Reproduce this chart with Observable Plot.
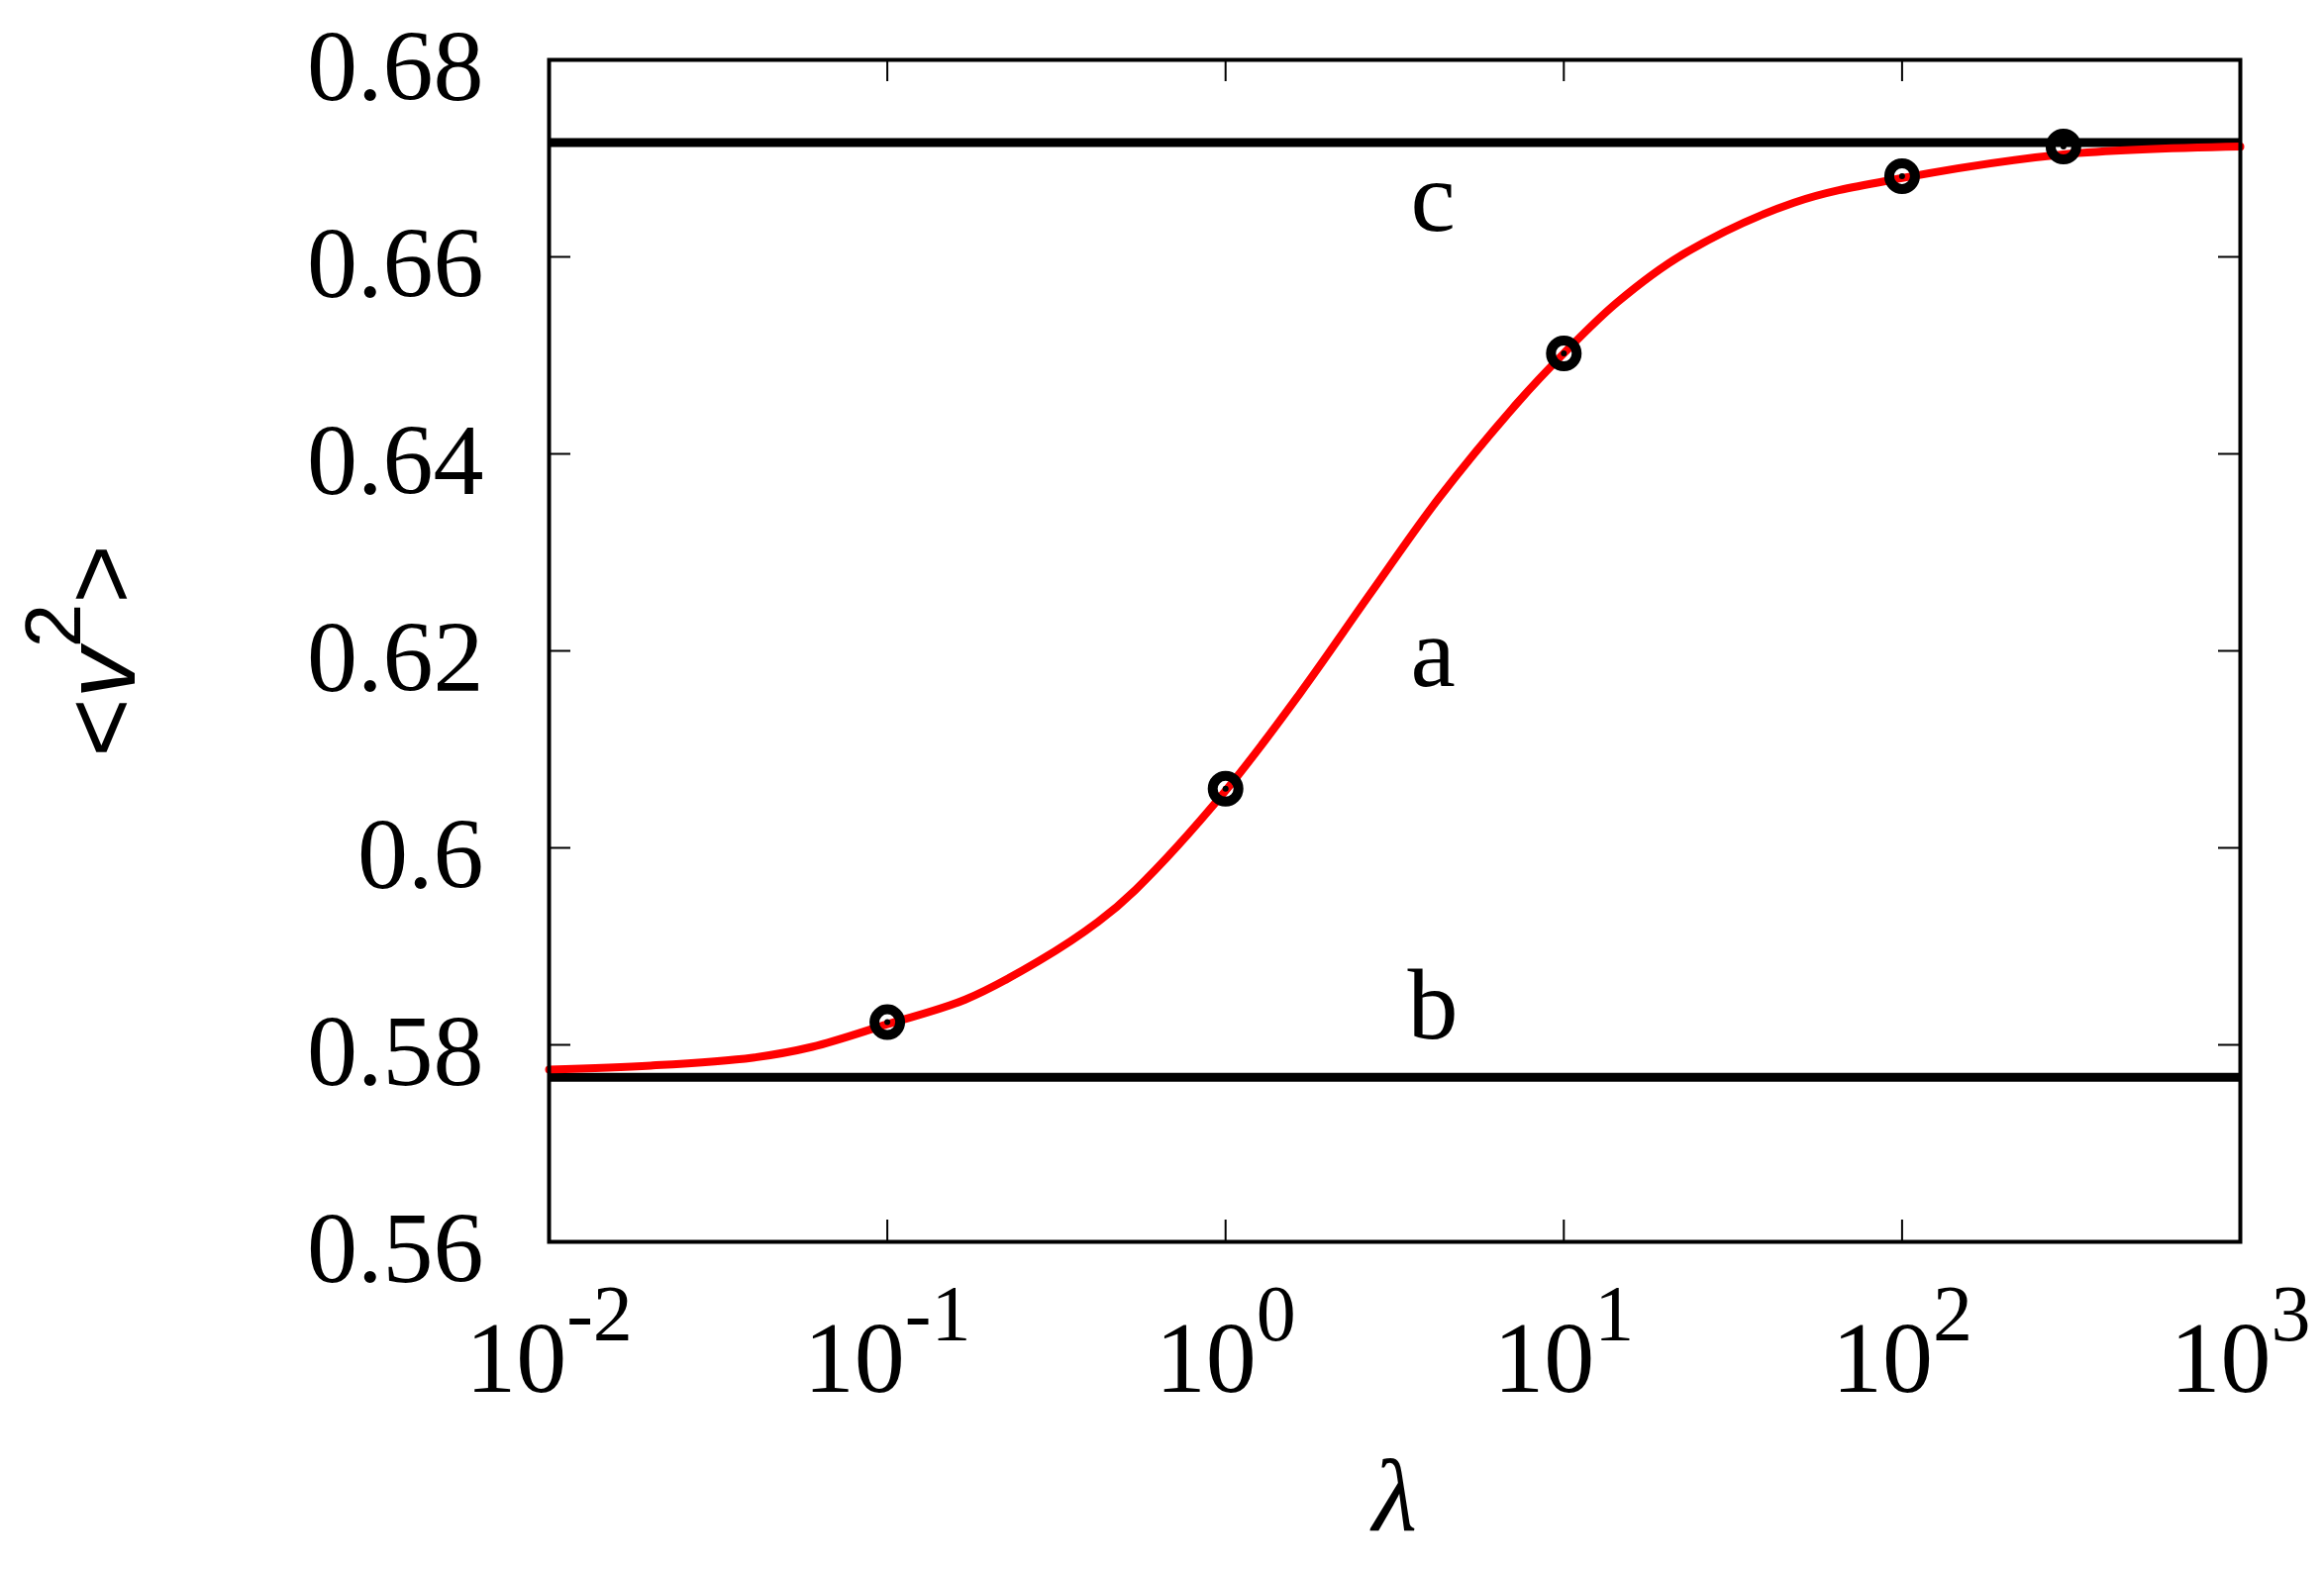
<!DOCTYPE html>
<html><head><meta charset="utf-8">
<script src="https://cdn.jsdelivr.net/npm/d3@7"></script>
<script src="https://cdn.jsdelivr.net/npm/@observablehq/plot@0.6"></script>
<style>html,body{margin:0;padding:0;background:#fff;overflow:hidden}</style>
</head><body><div id="chart"></div>
<script>
// curve "a" (red)
const lambdaCurve = [0.01, 0.02, 0.04, 0.06, 0.1, 0.17, 0.28, 0.42, 0.54, 1, 1.66, 2.69, 4.27, 7.3, 10, 14.4, 22.6, 47.9, 100, 300, 1000];
const v2Curve     = [0.5775, 0.5779, 0.5787, 0.5798, 0.5821, 0.5846, 0.5885, 0.5925, 0.5957, 0.6058, 0.6157, 0.6259, 0.6355, 0.6452, 0.6502, 0.6554, 0.6603, 0.6655, 0.6680, 0.6704, 0.6712];
// data points (rings)
const lambdaPoints = [0.1, 1, 10, 100, 300];
const v2Points     = [0.5823, 0.6060, 0.6502, 0.6682, 0.6712];
// horizontal limits b and c
const limitValues = [0.5767, 0.6716];
// ticks
const xTicks = [0.01, 0.1, 1, 10, 100, 1000];
const xExponents = ["-2", "-1", "0", "1", "2", "3"];
const yTicks = [0.56, 0.58, 0.60, 0.62, 0.64, 0.66, 0.68];
// in-plot labels
const curveLabels = ["c", "a", "b"];
const labelLambda = [4.1, 4.1, 4.1];
const labelV2 = [0.6627, 0.6164, 0.5807];
const yLabelText = "<v2>";

const W = 2347, H = 1587, mL = 554, mR = 85, mT = 60, mB = 333;
const pw = W - mL - mR, ph = H - mT - mB;
const serif = "'Liberation Serif','Times New Roman',serif";
const sans = "'Liberation Sans',Arial,sans-serif";

const curve = lambdaCurve.map((l, i) => ({l, v: v2Curve[i]}));
const pts = lambdaPoints.map((l, i) => ({l, v: v2Points[i]}));
const labels = curveLabels.map((t, i) => ({t, l: labelLambda[i], v: labelV2[i]}));

const chart = Plot.plot({
  width: W, height: H,
  marginLeft: mL, marginRight: mR, marginTop: mT, marginBottom: mB,
  style: {background: "#fff", fontFamily: serif, color: "#000"},
  x: {type: "log", domain: [0.01, 1000]},
  y: {domain: [0.56, 0.68]},
  marks: [
    Plot.ruleY(limitValues, {stroke: "#000", strokeWidth: 9}),
    Plot.line(curve, {x: "l", y: "v", stroke: "#ff0000", strokeWidth: 8, curve: "catmull-rom"}),
    Plot.dot(pts, {x: "l", y: "v", r: 13, stroke: "#000", strokeWidth: 10, fill: "none"}),
    Plot.dot(pts, {x: "l", y: "v", r: 3, fill: "#000", stroke: "none"}),
    Plot.tickY(yTicks, {y: d => d, insetRight: pw - 22, stroke: "#000", strokeWidth: 2}),
    Plot.tickY(yTicks, {y: d => d, insetLeft: pw - 22, stroke: "#000", strokeWidth: 2}),
    Plot.tickX(xTicks, {x: d => d, insetTop: ph - 22, stroke: "#000", strokeWidth: 2}),
    Plot.tickX(xTicks, {x: d => d, insetBottom: ph - 22, stroke: "#000", strokeWidth: 2}),
    Plot.frame({stroke: "#000", strokeWidth: 4}),
    Plot.axisY(yTicks, {anchor: "left", tickSize: 0, tickPadding: 66, fontSize: 102, dy: 8,
      tickFormat: d => String(+d.toFixed(2)), label: null}),
    Plot.axisX(xTicks, {anchor: "bottom", tickSize: 0, tickPadding: 79, fontSize: 102,
      tickFormat: d => "10^" + xExponents[xTicks.indexOf(d)], label: null}),
    Plot.text(labels, {x: "l", y: "v", text: "t", fontSize: 102, lineAnchor: "bottom", textAnchor: "middle"}),
    Plot.text(["λ"], {frameAnchor: "bottom", dy: 291, lineAnchor: "bottom", fontSize: 104, fontStyle: "italic", text: d => d}),
    Plot.text([yLabelText], {frameAnchor: "left", dx: -419, rotate: -90, lineAnchor: "bottom", textAnchor: "middle",
      fontSize: 102, fontFamily: sans, text: d => d})
  ]
});
document.getElementById("chart").appendChild(chart);

// superscripts on x tick labels
d3.select(chart).selectAll('g[aria-label="x-axis tick label"] text').each(function() {
  const parts = this.textContent.split("^");
  this.textContent = "";
  const s = d3.select(this);
  s.append("tspan").text(parts[0]);
  s.append("tspan").attr("dy", -52).attr("font-size", 80).text(parts[1]);
});
// y label <v^2>
d3.select(chart).selectAll("text").filter(function() { return this.textContent === yLabelText; }).each(function() {
  const yl = d3.select(this);
  yl.text("");
  yl.append("tspan").text("<");
  yl.append("tspan").attr("font-style", "italic").text("v");
  yl.append("tspan").attr("dy", -55).attr("font-size", 80).text("2");
  yl.append("tspan").attr("dy", 55).text(">");
});
</script>
</body></html>
